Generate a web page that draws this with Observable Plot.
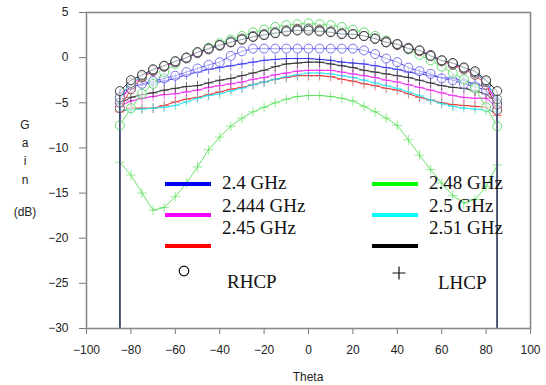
<!DOCTYPE html>
<html>
<head>
<meta charset="utf-8">
<script src="https://cdn.jsdelivr.net/npm/d3@7"></script>
<script src="https://cdn.jsdelivr.net/npm/@observablehq/plot@0.6"></script>
<style>
  html, body { margin: 0; padding: 0; background: #fff; }
  #chart svg { display: block; }
</style>
</head>
<body>
<div id="chart"></div>
<script>
// ---- data ----
const theta = [-85,-80,-75,-70,-65,-60,-55,-50,-45,-40,-35,-30,-25,-20,-15,-10,-5,0,5,10,15,20,25,30,35,40,45,50,55,60,65,70,75,80,85];
const edgeGain = -30; // traces fall to the bottom of the axis at the edges

const frequencies = ["2.4 GHz", "2.444 GHz", "2.45 GHz", "2.48 GHz", "2.5 GHz", "2.51 GHz"];
const freqColors  = ["#0000ff", "#ff00ff", "#ff0000", "#00ff00", "#00ffff", "#000000"];
const polarizations = ["RHCP", "LHCP"];

// RHCP (circles)
const rhcp_24   = [-4.5,-3.3,-2.9,-2.6,-2.3,-2.0,-1.6,-1.2,-0.8,-0.5,0.2,0.7,1.0,1.0,1.0,1.0,1.0,1.0,1.0,1.0,1.0,1.0,0.8,0.4,-0.1,-0.5,-1.1,-1.5,-1.8,-2.3,-2.5,-2.9,-3.2,-3.6,-5.0];
const rhcp_2444 = [-5.0,-3.0,-2.1,-1.4,-1.0,-0.5,-0.1,0.5,0.9,1.3,1.7,2.0,2.3,2.5,2.8,3.0,3.1,3.1,3.0,2.9,2.7,2.6,2.4,2.1,1.8,1.5,1.1,0.8,0.3,-0.3,-0.7,-1.2,-1.7,-2.7,-5.2];
const rhcp_245  = [-5.6,-3.5,-2.2,-1.5,-1.0,-0.5,0.0,0.5,1.0,1.4,1.7,2.1,2.4,2.6,2.8,3.0,3.2,3.2,3.1,2.9,2.7,2.6,2.4,2.1,1.7,1.4,1.0,0.7,0.2,-0.4,-0.8,-1.3,-1.9,-3.0,-5.8];
const rhcp_248  = [-7.5,-5.6,-4.0,-2.9,-1.6,-0.7,0.0,0.6,1.1,1.6,2.0,2.4,2.8,3.1,3.4,3.6,3.7,3.8,3.7,3.6,3.4,3.1,2.8,2.4,1.9,1.4,0.9,0.3,-0.3,-1.0,-1.7,-2.4,-3.4,-5.5,-7.6];
const rhcp_25   = [-4.4,-2.8,-2.0,-1.3,-0.9,-0.4,0.0,0.6,1.0,1.4,1.8,2.1,2.4,2.6,2.8,3.0,3.1,3.2,3.0,2.9,2.7,2.6,2.4,2.1,1.7,1.5,1.0,0.8,0.2,-0.3,-0.6,-1.1,-1.6,-2.6,-4.6];
const rhcp_251  = [-3.7,-2.5,-1.9,-1.3,-0.9,-0.4,0.0,0.6,1.0,1.4,1.7,2.0,2.3,2.5,2.7,2.9,3.0,3.0,2.9,2.8,2.6,2.6,2.4,2.1,1.7,1.5,1.0,0.8,0.2,-0.3,-0.6,-1.1,-1.5,-2.5,-3.7];

// LHCP (plus signs)
const lhcp_24   = [-4.0,-3.2,-3.0,-2.8,-2.6,-2.3,-1.9,-1.6,-1.3,-1.1,-0.9,-0.7,-0.5,-0.3,-0.2,-0.1,-0.1,-0.1,-0.2,-0.3,-0.5,-0.6,-0.7,-0.9,-1.1,-1.3,-1.6,-1.8,-2.0,-2.2,-2.3,-2.6,-2.9,-3.2,-4.7];
const lhcp_2444 = [-5.4,-4.8,-4.5,-4.3,-4.1,-4.0,-3.8,-3.6,-3.3,-3.1,-2.9,-2.7,-2.4,-2.2,-1.9,-1.7,-1.5,-1.4,-1.4,-1.4,-1.6,-1.8,-2.0,-2.2,-2.5,-2.7,-3.0,-3.3,-3.6,-3.9,-4.2,-4.4,-4.5,-4.5,-5.5];
const lhcp_245  = [-6.0,-5.6,-5.6,-5.6,-5.3,-4.9,-4.6,-4.4,-4.1,-3.8,-3.5,-3.3,-3.0,-2.7,-2.4,-2.2,-2.0,-2.0,-2.0,-2.1,-2.4,-2.6,-2.9,-3.1,-3.4,-3.6,-4.0,-4.4,-4.7,-5.0,-5.2,-5.3,-5.4,-5.5,-6.4];
const lhcp_248  = [-11.6,-13.0,-15.0,-16.9,-16.6,-15.4,-13.9,-12.1,-10.2,-8.8,-7.6,-6.7,-6.0,-5.5,-5.0,-4.6,-4.3,-4.2,-4.2,-4.3,-4.5,-4.8,-5.4,-6.0,-6.7,-7.5,-9.1,-10.8,-12.4,-13.9,-15.3,-16.1,-15.7,-14.3,-11.9];
const lhcp_25   = [-5.8,-5.8,-5.7,-5.6,-5.5,-5.3,-4.9,-4.5,-4.2,-4.0,-3.7,-3.4,-3.0,-2.7,-2.4,-2.1,-1.9,-1.7,-1.7,-1.8,-2.0,-2.2,-2.5,-2.8,-3.1,-3.4,-3.8,-4.2,-4.7,-5.1,-5.4,-5.6,-5.7,-5.8,-6.0];
const lhcp_251  = [-5.1,-4.4,-4.1,-3.9,-3.6,-3.4,-3.2,-3.1,-2.8,-2.5,-2.3,-2.0,-1.7,-1.4,-1.0,-0.7,-0.6,-0.5,-0.5,-0.7,-0.9,-1.1,-1.4,-1.6,-1.8,-2.0,-2.2,-2.5,-2.8,-3.1,-3.3,-3.4,-3.7,-4.0,-5.1];

const yTicks = [5,0,-5,-10,-15,-20,-25,-30];
const xTicks = [-100,-80,-60,-40,-20,0,20,40,60,80,100];

// ---- build series ----
const rhcpValues = [rhcp_24, rhcp_2444, rhcp_245, rhcp_248, rhcp_25, rhcp_251];
const lhcpValues = [lhcp_24, lhcp_2444, lhcp_245, lhcp_248, lhcp_25, lhcp_251];

function series(values, fi, pol) {
  return values.map((g, i) => ({theta: theta[i], gain: g, freq: frequencies[fi], pol, color: freqColors[fi]}));
}
function withEdges(rows) {
  const first = rows[0], last = rows[rows.length - 1];
  return [{...first, gain: edgeGain}, ...rows, {...last, gain: edgeGain}];
}

// draw order (back to front)
const order = [
  ["LHCP", 3], ["LHCP", 2], ["LHCP", 4], ["LHCP", 1], ["LHCP", 0], ["LHCP", 5],
  ["RHCP", 0], ["RHCP", 3], ["RHCP", 2], ["RHCP", 1], ["RHCP", 4], ["RHCP", 5]
];

const lineColors = {"#0000ff": "#2b2bf0", "#ff00ff": "#f020f0", "#ff0000": "#f02020", "#00ff00": "#55e055", "#00ffff": "#20e8f0", "#000000": "#222"};
const circleColors = {"#0000ff": "#7a70e8", "#ff00ff": "#7a5a7a", "#ff0000": "#8a4a4a", "#00ff00": "#66dd77", "#00ffff": "#6a8a8a", "#000000": "#444"};

const marks = [];
for (const [pol, fi] of order) {
  const vals = pol === "RHCP" ? rhcpValues[fi] : lhcpValues[fi];
  const rows = series(vals, fi, pol);
  const c = freqColors[fi];
  marks.push(Plot.line(withEdges(rows), {x: "theta", y: "gain", stroke: lineColors[c], strokeWidth: 1, strokeOpacity: 0.9, clip: true}));
  if (pol === "RHCP") {
    marks.push(Plot.dot(rows, {x: "theta", y: "gain", r: 4.5, stroke: circleColors[c], strokeWidth: 1, fill: "white", fillOpacity: 0.55}));
  } else {
    marks.push(Plot.dot(rows, {x: "theta", y: "gain", symbol: "plus", r: 3.2, stroke: lineColors[c], strokeWidth: 0.8, strokeOpacity: 0.8}));
  }
}

const chart = Plot.plot({
  width: 546,
  height: 385,
  marginLeft: 86,
  marginRight: 16,
  marginTop: 12,
  marginBottom: 57,
  style: {fontFamily: "'Liberation Sans', Arial, sans-serif", fontSize: "12px", background: "white"},
  x: {domain: [-100, 100]},
  y: {domain: [-30, 5]},
  marks: [
    Plot.axisY(yTicks, {tickSize: 7, tickPadding: 11, label: null, stroke: "#777", fill: "#222"}),
    Plot.axisX(xTicks, {tickSize: 6, tickPadding: 11, label: null, stroke: "#777", fill: "#222"}),
    ...marks,
    Plot.frame({stroke: "#8a8a8a", strokeWidth: 1.6})
  ]
});

document.getElementById("chart").appendChild(chart);

// ---- axis titles and in-plot legend (annotations) ----
const svg = d3.select(chart);
const sans = "'Liberation Sans', Arial, sans-serif";
const serif = "'Liberation Serif', 'Times New Roman', serif";

svg.append("text").attr("x", 308).attr("y", 381).attr("text-anchor", "middle")
  .attr("font-family", sans).attr("font-size", 12).attr("fill", "#222").text("Theta");

const yLab = [["G", 125], ["a", 143], ["i", 161], ["n", 180], ["(dB)", 212]];
for (const [t, y] of yLab) {
  svg.append("text").attr("x", 25).attr("y", y).attr("dy", "0.35em").attr("text-anchor", "middle")
    .attr("font-family", sans).attr("font-size", 12).attr("fill", "#222").text(t);
}

const legendCols = [
  {x0: 165, x1: 211, tx: 222, idx: [0, 1, 2], mark: "circle", mx: 184, my: 271, ptx: 227, pty: 288, pol: polarizations[0]},
  {x0: 372, x1: 418, tx: 429, idx: [3, 4, 5], mark: "plus", mx: 399, my: 273, ptx: 438, pty: 289, pol: polarizations[1]}
];
const lineYs = [184, 215, 246];
const textYs = [189, 212, 234];
const lg = svg.append("g").attr("text-anchor", "start");
for (const col of legendCols) {
  col.idx.forEach((fi, k) => {
    lg.append("line").attr("x1", col.x0).attr("x2", col.x1).attr("y1", lineYs[k]).attr("y2", lineYs[k])
      .attr("stroke", freqColors[fi]).attr("stroke-width", 4);
    lg.append("text").attr("x", col.tx).attr("y", textYs[k]).attr("text-anchor", "start")
      .attr("font-family", serif).attr("font-size", 19).attr("fill", "#111").text(frequencies[fi]);
  });
  if (col.mark === "circle") {
    lg.append("circle").attr("cx", col.mx).attr("cy", col.my).attr("r", 4.8).attr("fill", "none").attr("stroke", "#111").attr("stroke-width", 1.2);
  } else {
    lg.append("path").attr("d", `M${col.mx - 6.5},${col.my}H${col.mx + 6.5}M${col.mx},${col.my - 6.5}V${col.my + 6.5}`)
      .attr("stroke", "#111").attr("stroke-width", 1.2);
  }
  lg.append("text").attr("x", col.ptx).attr("y", col.pty).attr("text-anchor", "start")
    .attr("font-family", serif).attr("font-size", 19).attr("fill", "#111").text(col.pol);
}
</script>
</body>
</html>
